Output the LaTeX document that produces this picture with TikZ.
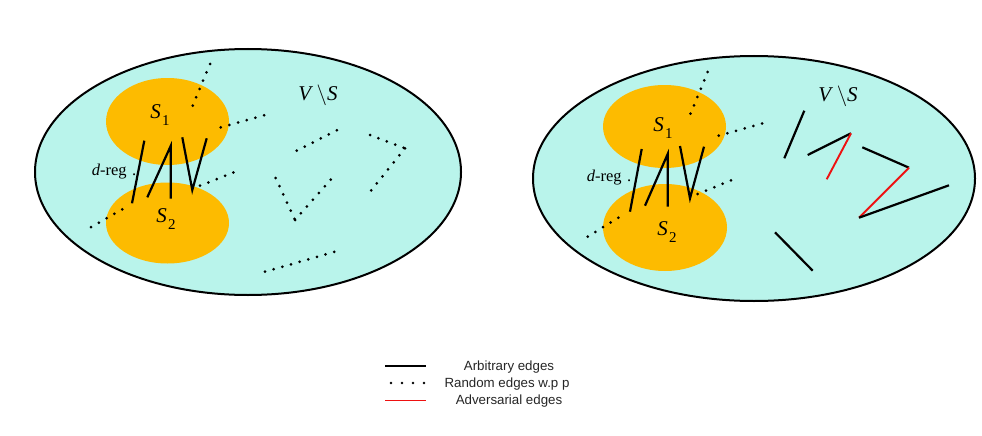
\documentclass[tikz,border=0pt]{standalone}
\usepackage{fontspec}
\setmainfont{Liberation Serif}
\newfontfamily\legfont{Liberation Sans}
\definecolor{cyanfill}{HTML}{B9F4EB}
\definecolor{orangefill}{HTML}{FDBB00}
\definecolor{adv}{HTML}{EE1111}
\newcommand{\setsub}[2]{\textit{#1}\kern0.05em\raisebox{-0.32em}{\fontsize{15}{15}\selectfont #2}}
\begin{document}
\begin{tikzpicture}[x=1pt,y=-1pt,
  bigset/.style={draw=black,line width=2pt,fill=cyanfill},
  subset/.style={fill=orangefill,draw=none},
  arb/.style={black,line width=2.2pt},
  rnd/.style={black,line width=3pt,line cap=round,dash pattern=on 0pt off 9pt},
  advl/.style={adv,line width=1.9pt},
  lbl/.style={font=\fontsize{21}{21}\selectfont,inner sep=0pt},
  dlbl/.style={font=\fontsize{16.5}{16.5}\selectfont,inner sep=0pt},
  leg/.style={font=\legfont\fontsize{13.3}{13.3}\selectfont,text=black!85,inner sep=0pt}]
\useasboundingbox (0,0) rectangle (982,436);
\fill[white] (0,0) rectangle (982,436);
% ---------- left ----------
\draw[bigset] (248,172) ellipse [x radius=213,y radius=123];
\fill[subset] (167.5,121.5) ellipse [x radius=61.5,y radius=43.5];
\fill[subset] (167.5,223) ellipse [x radius=61.5,y radius=40.5];
\node[lbl] (ls1) at (160,115) {\setsub{S}{1}};
\node[lbl] (ls2) at (166,219) {\setsub{S}{2}};
\node[lbl] (lvs) at (318,95) {\textit{V}\,$\backslash$\textit{S}};
\node[dlbl] (ldr) at (114,172) {\textit{d}-reg\,\,.};
\coordinate (la1) at (144.3,140.7); \coordinate (la2) at (132,203.3);
\coordinate (lb1) at (147.3,197.3); \coordinate (lb2) at (170.7,146); \coordinate (lb3) at (170.7,198.7);
\coordinate (lc1) at (182.3,137.3); \coordinate (lc2) at (192.3,190); \coordinate (lc3) at (206.7,138.3);
\draw[arb] (la1) -- (la2);
\draw[arb] (lb1) -- (lb2) -- (lb3);
\draw[arb] (lc1) -- (lc2) -- (lc3);
\coordinate (lr1) at (210,64); \coordinate (lr2) at (192.3,106.7);
\coordinate (lr3) at (220.7,127.3); \coordinate (lr4) at (265,115);
\coordinate (lr5) at (200,185.7); \coordinate (lr6) at (234,172.3);
\coordinate (lr7) at (122.3,209.3); \coordinate (lr8) at (88.3,228.7);
\coordinate (lr9) at (296.7,150.7); \coordinate (lr10) at (337.3,130);
\coordinate (lv1) at (275.7,178); \coordinate (lv2) at (295,220); \coordinate (lv3) at (332.7,177.3);
\coordinate (lg1) at (370,135); \coordinate (lg2) at (405,148.3); \coordinate (lg3) at (368.3,194);
\coordinate (lh1) at (265,271.7); \coordinate (lh2) at (335,251.7);
\draw[rnd] (lr1) -- (lr2);
\draw[rnd] (lr3) -- (lr4);
\draw[rnd] (lr5) -- (lr6);
\draw[rnd] (lr7) -- (lr8);
\draw[rnd] (lr9) -- (lr10);
\draw[rnd] (lv1) -- (lv2);
\draw[rnd] (lv2) -- (lv3);
\draw[rnd] (lg1) -- (lg2);
\draw[rnd] (lg2) -- (lg3);
\draw[rnd] (lh1) -- (lh2);
% ---------- right ----------
\draw[bigset] (754,178.5) ellipse [x radius=221,y radius=122.5];
\fill[subset] (664.5,126.5) ellipse [x radius=61.5,y radius=41.5];
\fill[subset] (665,227.5) ellipse [x radius=62,y radius=43.5];
\node[lbl] (rs1) at (663,128) {\setsub{S}{1}};
\node[lbl] (rs2) at (667,232) {\setsub{S}{2}};
\node[lbl] (rvs) at (838,96) {\textit{V}\,$\backslash$\textit{S}};
\node[dlbl] (rdr) at (609,178) {\textit{d}-reg\,\,.};
\coordinate (ra1) at (641.7,149); \coordinate (ra2) at (630,211.7);
\coordinate (rb1) at (645,205.7); \coordinate (rb2) at (667.7,154); \coordinate (rb3) at (667.7,206.7);
\coordinate (rc1) at (680,146); \coordinate (rc2) at (690,198.3); \coordinate (rc3) at (704,146.7);
\draw[arb] (ra1) -- (ra2);
\draw[arb] (rb1) -- (rb2) -- (rb3);
\draw[arb] (rc1) -- (rc2) -- (rc3);
\coordinate (rr1) at (707.7,72); \coordinate (rr2) at (690,115);
\coordinate (rr3) at (718.7,135.7); \coordinate (rr4) at (762.7,123.3);
\coordinate (rr5) at (697.7,194); \coordinate (rr6) at (731.7,180);
\coordinate (rr7) at (618.3,217.7); \coordinate (rr8) at (586.7,237.3);
\draw[rnd] (rr1) -- (rr2);
\draw[rnd] (rr3) -- (rr4);
\draw[rnd] (rr5) -- (rr6);
\draw[rnd] (rr7) -- (rr8);
\coordinate (re1) at (804.3,110.7); \coordinate (re2) at (784.3,158.3);
\coordinate (rf1) at (807.7,155); \coordinate (rf2) at (851,133.3); \coordinate (rf3) at (826.7,179.3);
\coordinate (rg1) at (862.3,147.3); \coordinate (rg2) at (909,167.7); \coordinate (rg3) at (859,217.7); \coordinate (rg4) at (949,185.3);
\coordinate (rh1) at (775,232.3); \coordinate (rh2) at (812.7,270.7);
\draw[arb] (re1) -- (re2);
\draw[arb] (rf1) -- (rf2);
\draw[advl] (rf2) -- (rf3);
\draw[arb] (rg1) -- (rg2);
\draw[advl] (rg2) -- (rg3);
\draw[arb] (rg3) -- (rg4);
\draw[arb] (rh1) -- (rh2);
% ---------- legend ----------
\coordinate (k1a) at (385,366); \coordinate (k1b) at (426,366);
\coordinate (k2a) at (391,383); \coordinate (k2b) at (425,383);
\coordinate (k3a) at (385,400.5); \coordinate (k3b) at (426,400.5);
\draw[black,line width=2pt] (k1a) -- (k1b);
\draw[black,line width=2.6pt,line cap=round,dash pattern=on 0pt off 11pt] (k2a) -- (k2b);
\draw[adv,line width=1.8pt] (k3a) -- (k3b);
\node[leg] (t1) at (509,367) {Arbitrary edges};
\node[leg] (t2) at (507,384) {Random edges w.p p};
\node[leg] (t3) at (509,401) {Adversarial edges};
\end{tikzpicture}
\end{document}
